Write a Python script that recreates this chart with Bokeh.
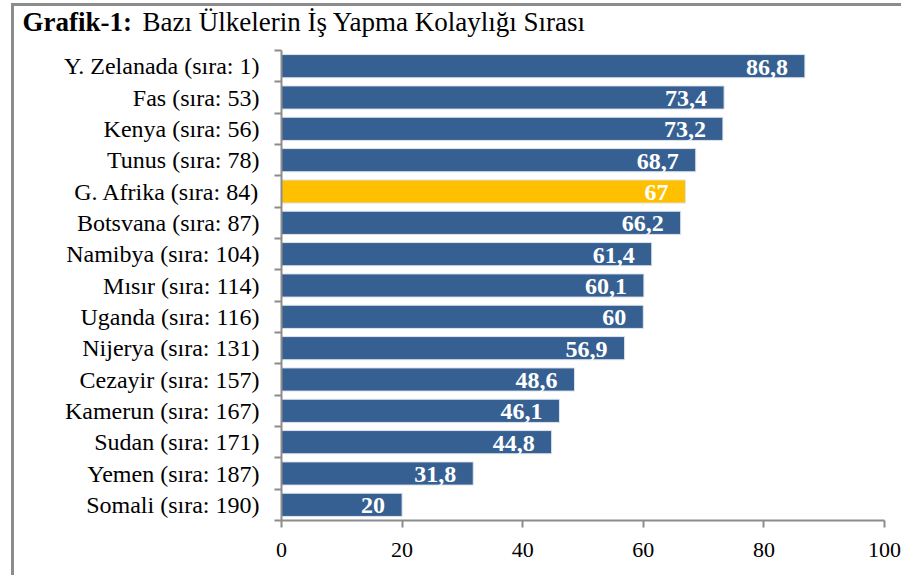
from bokeh.plotting import figure
from bokeh.models import Range1d, FixedTicker, ColumnDataSource, LabelSet, Label
from bokeh.embed import file_html
from bokeh.resources import INLINE

categories = ["Y. Zelanada (sıra: 1)", "Fas (sıra: 53)", "Kenya (sıra: 56)", "Tunus (sıra: 78)",
              "G. Afrika (sıra: 84)", "Botsvana (sıra: 87)", "Namibya (sıra: 104)", "Mısır (sıra: 114)",
              "Uganda (sıra: 116)", "Nijerya (sıra: 131)", "Cezayir (sıra: 157)", "Kamerun (sıra: 167)",
              "Sudan (sıra: 171)", "Yemen (sıra: 187)", "Somali (sıra: 190)"]
values = [86.8, 73.4, 73.2, 68.7, 67.0, 66.2, 61.4, 60.1, 60.0, 56.9, 48.6, 46.1, 44.8, 31.8, 20.0]
value_labels = ["86,8", "73,4", "73,2", "68,7", "67", "66,2", "61,4", "60,1", "60", "56,9",
                "48,6", "46,1", "44,8", "31,8", "20"]
highlight = "G. Afrika (sıra: 84)"
x_ticks = [0, 20, 40, 60, 80, 100]
title_bold = "Grafik-1:"
title_rest = "Bazı Ülkelerin İş Yapma Kolaylığı Sırası"

SERIF = "Liberation Serif"
BLUE = "#376092"
GOLD = "#FFC000"
GRAY = "#8c8c8c"

n = len(categories)
ypos = [n - i for i in range(n)]  # top category at highest position
colors = [GOLD if c == highlight else BLUE for c in categories]

src = ColumnDataSource(dict(y=ypos, v=values, lab=value_labels, c=colors))

# Geometry (pixels inside the figure): the frame covers the whole figure,
# axes are pinned at x=0 / y=0.5 so that the title can live inside the frame.
W, H = 890, 572
AX_L, AX_R = 267, 870      # pixel columns of x=0 and x=100
AX_T, AX_B = 44, 514       # pixel rows of the top and bottom category edges
sx = (AX_R - AX_L) / 100.0
sy = (AX_B - AX_T) / n
x0 = -AX_L / sx
x1 = 100 + (W - AX_R) / sx
y1 = n + 0.5 + AX_T / sy
y0 = 0.5 - (H - AX_B) / sy

p = figure(width=W, height=H, output_backend="svg", toolbar_location=None,
           x_range=Range1d(x0, x1), y_range=Range1d(y0, y1), min_border=0)
p.styles = {"margin-left": "11px", "margin-top": "3px",
            "border-top": "3px solid #8c8c8c", "border-left": "3px solid #8c8c8c"}
p.outline_line_color = None
p.grid.visible = False
p.background_fill_color = "white"
p.border_fill_color = "white"

p.hbar(y="y", right="v", left=0, height=0.74, fill_color="c", line_color="#dfe4ec",
       line_width=1, source=src)

labels = LabelSet(x="v", y="y", text="lab", source=src, x_offset=-17, y_offset=-1,
                  text_align="right", text_baseline="middle", text_color="white",
                  text_font=SERIF, text_font_style="bold", text_font_size="24px")
p.add_layout(labels)

# x axis
xa = p.xaxis[0]
xa.fixed_location = 0.5
xa.bounds = (0, 100)
xa.ticker = FixedTicker(ticks=x_ticks)
xa.axis_line_color = GRAY
xa.axis_line_width = 2
xa.major_tick_line_color = GRAY
xa.major_tick_line_width = 2
xa.major_tick_out = 7
xa.major_tick_in = 0
xa.minor_tick_line_color = None
xa.major_label_text_font = SERIF
xa.major_label_text_font_size = "22px"
xa.major_label_text_color = "black"
xa.major_label_standoff = 15

# y axis: labels at category centres, tick marks at category boundaries
ya = p.yaxis[0]
ya.fixed_location = 0
ya.bounds = (0.5, n + 0.5)
ya.ticker = FixedTicker(ticks=ypos, minor_ticks=[k + 0.5 for k in range(n + 1)])
ya.major_label_overrides = {y: c for y, c in zip(ypos, categories)}
ya.axis_line_color = GRAY
ya.axis_line_width = 2
ya.major_tick_line_color = None
ya.major_tick_out = 0
ya.major_tick_in = 0
ya.minor_tick_line_color = GRAY
ya.minor_tick_line_width = 2
ya.minor_tick_out = 7
ya.minor_tick_in = 0
ya.major_label_text_font = SERIF
ya.major_label_text_font_size = "24px"
ya.major_label_text_color = "black"
ya.major_label_standoff = 15

# title
title_y = n + 0.5 + (AX_T - 15.5) / sy
p.add_layout(Label(x=(8 - AX_L) / sx, y=title_y, text=title_bold,
                   text_font=SERIF, text_font_style="bold", text_font_size="27px",
                   text_baseline="middle", text_color="black"))
p.add_layout(Label(x=(128 - AX_L) / sx, y=title_y, text=title_rest,
                   text_font=SERIF, text_font_size="27px",
                   text_baseline="middle", text_color="black"))

open("out.html", "w").write(file_html(p, INLINE))
